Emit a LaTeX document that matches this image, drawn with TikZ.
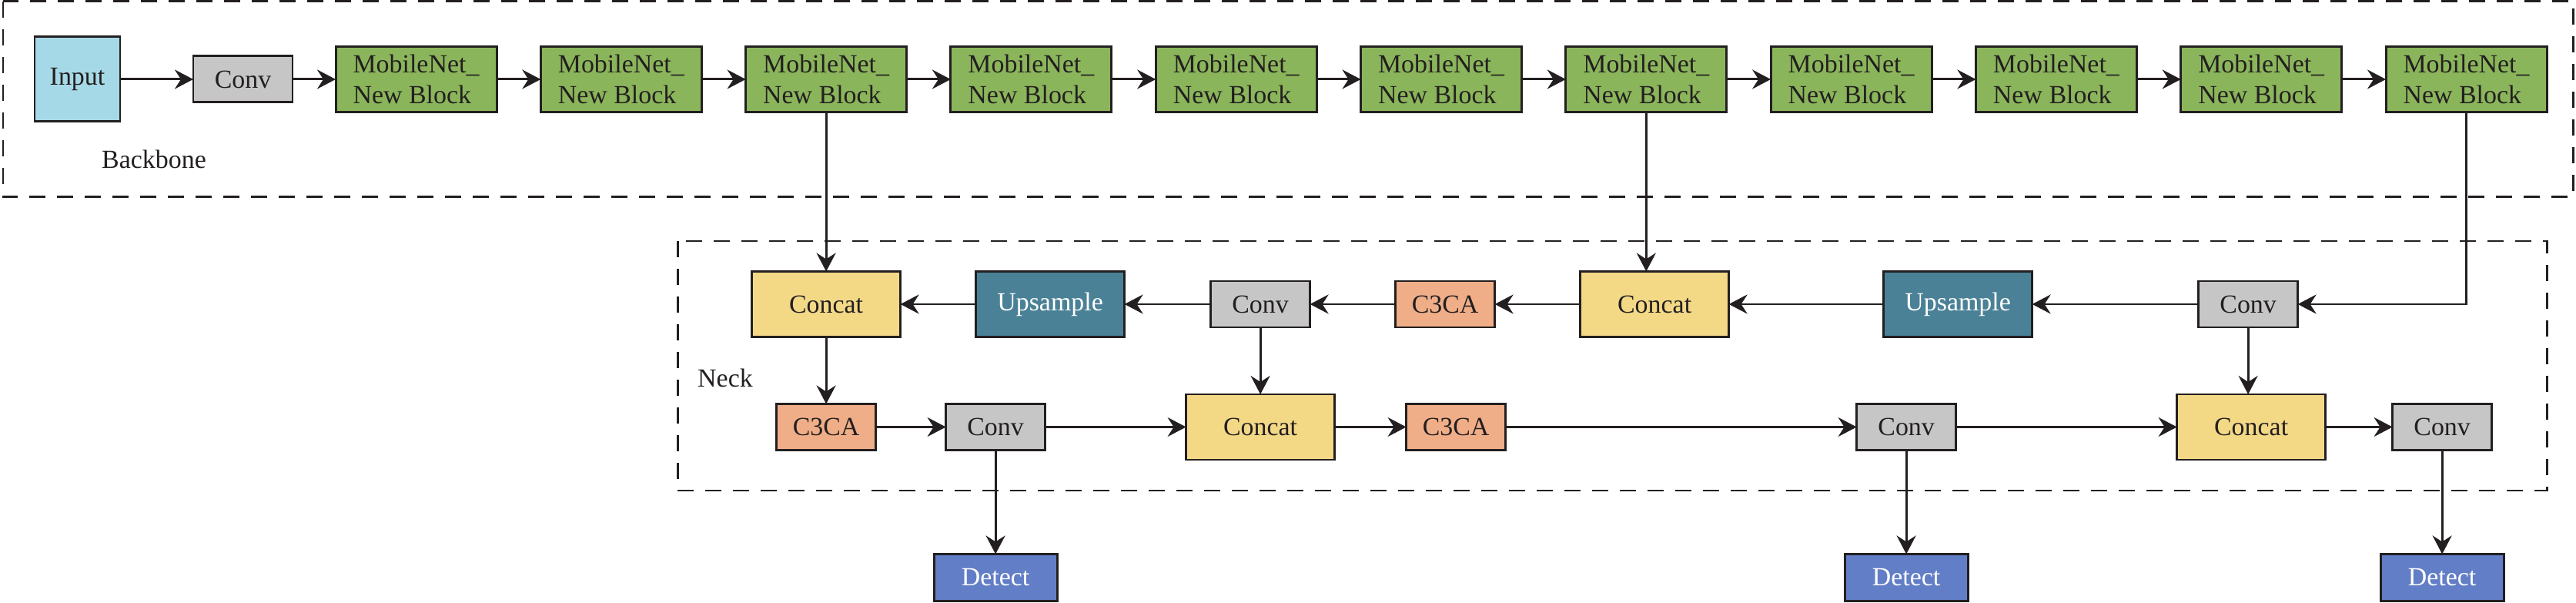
\documentclass[tikz,border=0pt]{standalone}
\usepackage{fontspec}
\setmainfont{Liberation Serif}
\usetikzlibrary{arrows.meta,positioning}
\definecolor{linec}{HTML}{231F20}
\definecolor{incol}{HTML}{A6D9E7}
\definecolor{convcol}{HTML}{C6C6C6}
\definecolor{mbcol}{HTML}{8BB55B}
\definecolor{catcol}{HTML}{F3D886}
\definecolor{upcol}{HTML}{4A8196}
\definecolor{cacol}{HTML}{F0AE88}
\definecolor{detcol}{HTML}{627EC6}

\begin{document}
\begin{tikzpicture}[
node distance=5.73mm and 5.73mm,
block/.style={draw=linec,line width=0.85pt,outer sep=0pt,align=center,inner sep=1pt,text=linec,font=\fontsize{9.65pt}{11.4pt}\selectfont},
inblock/.style={block,fill=incol,minimum width=11.1mm,minimum height=11mm},
convblock/.style={block,fill=convcol,minimum width=12.9mm,minimum height=6mm},
mbblock/.style={block,fill=mbcol,align=left,minimum width=20.9mm,minimum height=8.5mm},
catblock/.style={block,fill=catcol,minimum width=19.3mm,minimum height=8.5mm},
upblock/.style={block,fill=upcol,text=white,minimum width=19.3mm,minimum height=8.5mm},
cablock/.style={block,fill=cacol,minimum width=12.9mm,minimum height=6mm},
detblock/.style={block,fill=detcol,text=white,minimum width=16mm,minimum height=6.1mm},
label/.style={font=\fontsize{9.65pt}{11.4pt}\selectfont,text=linec},
group/.style={draw=linec,line width=0.85pt,dash pattern=on 2.1mm off 1.5mm},
arrow/.style={-{Stealth[length=2.4mm,width=2.5mm,inset=0.8mm]},line width=0.85pt,draw=linec}
]
\useasboundingbox (0,0) rectangle (33.46,-7.83);

% backbone
\node[inblock] (input) at (1.005,-1.03) {Input};
\node[convblock,right=9.5mm of input] (conv0) {Conv};
\node[mbblock,right=5.6mm of conv0] (mb1) {MobileNet\_\\New Block};
\node[mbblock,right=of mb1] (mb2) {MobileNet\_\\New Block};
\node[mbblock,right=of mb2] (mb3) {MobileNet\_\\New Block};
\node[mbblock,right=of mb3] (mb4) {MobileNet\_\\New Block};
\node[mbblock,right=of mb4] (mb5) {MobileNet\_\\New Block};
\node[mbblock,right=of mb5] (mb6) {MobileNet\_\\New Block};
\node[mbblock,right=of mb6] (mb7) {MobileNet\_\\New Block};
\node[mbblock,right=of mb7] (mb8) {MobileNet\_\\New Block};
\node[mbblock,right=of mb8] (mb9) {MobileNet\_\\New Block};
\node[mbblock,right=of mb9] (mb10) {MobileNet\_\\New Block};
\node[mbblock,right=of mb10] (mb11) {MobileNet\_\\New Block};
\node[label] (backbone) at (2.0,-2.07) {Backbone};

% neck, upper row
\node[catblock,below=20.7mm of mb3] (cat1) {Concat};
\node[upblock,right=9.8mm of cat1] (up1) {Upsample};
\node[convblock,right=11.2mm of up1] (conv1) {Conv};
\node[cablock,right=11.1mm of conv1] (ca1) {C3CA};
\node[catblock,right=11.1mm of ca1] (cat2) {Concat};
\node[upblock,right=20.1mm of cat2] (up2) {Upsample};
\node[convblock,right=21.6mm of up2] (conv2) {Conv};

% neck, lower row
\node[cablock,below=8.7mm of cat1] (ca2) {C3CA};
\node[convblock,right=9.1mm of ca2] (conv3) {Conv};
\node[catblock,right=18.3mm of conv3] (cat3) {Concat};
\node[cablock,right=9.3mm of cat3] (ca3) {C3CA};
\node[convblock,right=45.6mm of ca3] (conv4) {Conv};
\node[catblock,right=28.7mm of conv4] (cat4) {Concat};
\node[convblock,right=8.7mm of cat4] (conv5) {Conv};
\node[label] (neck) at (9.42,-4.91) {Neck};

% heads
\node[detblock,below=13.5mm of conv3] (det1) {Detect};
\node[detblock,below=13.5mm of conv4] (det2) {Detect};
\node[detblock,below=13.5mm of conv5] (det3) {Detect};

% dashed groups
\draw[group] (0.04,-0.02) rectangle (33.42,-2.56);
\draw[group] (8.80,-3.13) rectangle (33.08,-6.37);

\draw[arrow] (input) -- (conv0);
\draw[arrow] (conv0) -- (mb1);
\draw[arrow] (mb1) -- (mb2);
\draw[arrow] (mb2) -- (mb3);
\draw[arrow] (mb3) -- (mb4);
\draw[arrow] (mb4) -- (mb5);
\draw[arrow] (mb5) -- (mb6);
\draw[arrow] (mb6) -- (mb7);
\draw[arrow] (mb7) -- (mb8);
\draw[arrow] (mb8) -- (mb9);
\draw[arrow] (mb9) -- (mb10);
\draw[arrow] (mb10) -- (mb11);

\draw[arrow] (mb3) -- (cat1);
\draw[arrow] (mb7.south) -- (mb7.south |- cat2.north);
\draw[arrow] (mb11.south) |- (conv2);
\draw[arrow] (conv2) -- (up2);
\draw[arrow] (up2) -- (cat2);
\draw[arrow] (cat2) -- (ca1);
\draw[arrow] (ca1) -- (conv1);
\draw[arrow] (conv1) -- (up1);
\draw[arrow] (up1) -- (cat1);

\draw[arrow] (cat1) -- (ca2);
\draw[arrow] (ca2) -- (conv3);
\draw[arrow] (conv3) -- (cat3);
\draw[arrow] (cat3) -- (ca3);
\draw[arrow] (ca3) -- (conv4);
\draw[arrow] (conv4) -- (cat4);
\draw[arrow] (cat4) -- (conv5);
\draw[arrow] (conv1.south) -- (conv1.south |- cat3.north);
\draw[arrow] (conv2.south) -- (conv2.south |- cat4.north);

\draw[arrow] (conv3) -- (det1);
\draw[arrow] (conv4) -- (det2);
\draw[arrow] (conv5) -- (det3);
\end{tikzpicture}
\end{document}
